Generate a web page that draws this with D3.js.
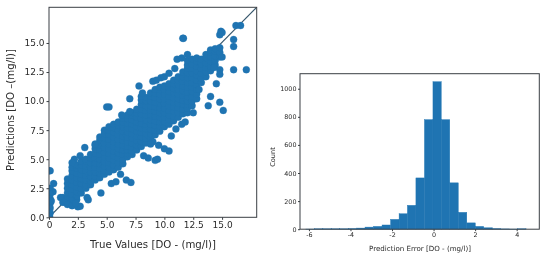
<!DOCTYPE html>
<html>
<head>
<meta charset="utf-8">
<script src="https://cdn.jsdelivr.net/npm/d3@7"></script>
<style>
    html, body { margin: 0; padding: 0; background: #fff; }
    svg { display: block; filter: blur(0.45px); font-family: "DejaVu Sans", sans-serif; }
</style>
</head>
<body>
<div id="graph_field"></div>
<script>
// Scatter: one true value, all predictions seen at it
const columnTrue = [1.2, 1.6, 2.0, 2.4, 2.8, 3.2, 3.6, 4.0, 4.4, 4.8, 5.2, 5.6, 6.0, 6.4, 6.8, 7.2, 7.6, 8.0, 8.4, 8.8, 9.2, 9.6, 10.0, 10.4, 10.8, 11.2, 11.6, 12.0, 12.4, 12.8, 13.2, 13.6, 14.0, 14.4, 14.8];
const columnPredicted = [
    [1.3, 1.7],
    [1.3, 1.7, 2.1, 2.5, 2.9, 3.3],
    [1.3, 1.6, 2.0, 2.4, 2.8, 3.2, 3.6, 4.0, 4.3],
    [1.5, 1.8, 2.2, 2.6, 3.0, 3.4, 3.8, 4.2, 4.5],
    [2.1, 2.5, 2.9, 3.3, 3.7, 4.1, 4.5, 4.8],
    [2.5, 2.8, 3.2, 3.6, 4.0, 4.4, 4.8, 5.0],
    [2.8, 3.1, 3.5, 3.9, 4.3, 4.7, 5.1, 5.4],
    [3.2, 3.5, 3.9, 4.3, 4.7, 5.1, 5.5, 5.9, 6.2],
    [3.4, 3.8, 4.2, 4.6, 5.0, 5.4, 5.8, 6.2, 6.6, 6.9],
    [3.7, 4.0, 4.4, 4.8, 5.2, 5.6, 6.0, 6.4, 6.8, 7.2, 7.5],
    [3.9, 4.3, 4.7, 5.1, 5.5, 5.9, 6.3, 6.7, 7.1, 7.5, 7.8],
    [4.1, 4.5, 4.9, 5.3, 5.7, 6.1, 6.5, 6.9, 7.3, 7.7, 8.0],
    [4.3, 4.7, 5.1, 5.5, 5.9, 6.3, 6.7, 7.1, 7.5, 7.9, 8.2],
    [4.6, 5.0, 5.4, 5.8, 6.2, 6.6, 7.0, 7.4, 7.8, 8.2, 8.5],
    [5.2, 5.5, 5.8, 6.1, 6.5, 6.9, 7.3, 7.7, 8.1, 8.5, 8.8],
    [5.4, 5.7, 6.0, 6.4, 6.8, 7.2, 7.6, 8.0, 8.4, 8.8, 9.0],
    [5.8, 6.2, 6.6, 7.0, 7.4, 7.8, 8.2, 8.6, 9.0, 9.3],
    [6.1, 6.5, 6.9, 7.3, 7.7, 8.1, 8.5, 8.9, 9.3, 9.7, 10.1, 10.4],
    [6.4, 6.8, 7.2, 7.6, 8.0, 8.4, 8.8, 9.2, 9.6, 10.0, 10.3],
    [6.8, 7.2, 7.6, 8.0, 8.4, 8.8, 9.2, 9.6, 10.0, 10.4, 10.7],
    [7.1, 7.5, 7.9, 8.3, 8.7, 9.1, 9.5, 9.9, 10.3, 10.7, 11.0],
    [7.4, 7.8, 8.2, 8.6, 9.0, 9.4, 9.8, 10.2, 10.6, 11.0, 11.2],
    [7.8, 8.2, 8.6, 9.0, 9.4, 9.8, 10.2, 10.6, 11.0, 11.3],
    [8.0, 8.4, 8.8, 9.2, 9.6, 10.0, 10.4, 10.8, 11.2, 11.5],
    [8.3, 8.7, 9.1, 9.5, 9.9, 10.3, 10.7, 11.1, 11.5, 11.8],
    [8.6, 9.0, 9.4, 9.8, 10.2, 10.6, 11.0, 11.4, 11.8, 12.1],
    [8.9, 9.3, 9.7, 10.1, 10.5, 10.9, 11.3, 11.7, 12.1, 12.5],
    [9.0, 9.4, 9.7, 10.0, 10.4, 10.8, 11.2, 11.6, 12.0, 12.4, 12.8, 13.1, 13.5],
    [9.6, 10.0, 10.4, 10.8, 11.2, 11.6, 12.0, 12.4, 12.8, 13.2, 13.6],
    [10.2, 10.6, 11.0, 11.4, 11.8, 12.2, 12.6, 13.0, 13.4, 13.7],
    [11.6, 12.0, 12.4, 12.8, 13.2, 13.6],
    [12.1, 12.5, 12.9, 13.3, 13.7, 14.0],
    [12.6, 13.0, 13.4, 13.8, 14.2, 14.4],
    [13.1, 13.5, 13.9, 14.3, 14.5],
    [13.8, 14.2, 14.6]
];
// Points standing apart from the main band
const outlierTrue = [0, 0.1, 0.4, 0.35, 0.1, 0.1, 0.1, 0.1, 0.1, 0.1, 0.05, 0.2, 1.0, 1.3, 1.6, 2.0, 2.5, 2.7, 2.3, 3.4, 3.3, 4.5, 5.4, 5.8, 6.7, 7.1, 6.2, 3.1, 2.7, 2.2, 2.0, 4.0, 5.0, 5.2, 6.3, 7.0, 7.0, 7.8, 8.1, 9.0, 9.3, 9.7, 10.0, 10.4, 10.9, 11.1, 11.5, 12.0, 11.6, 11.65, 14.8, 14.9, 15.0, 16.2, 16.6, 16.0, 16.0, 16.0, 17.1, 15.0, 14.8, 14.8, 14.3, 14.0, 13.8, 14.8, 15.1, 14.5, 8.2, 8.6, 9.2, 9.4, 10.0, 10.4, 9.5, 9.0, 8.8, 11.0, 11.5, 11.8, 10.6, 12.5, 13.0];
const outlierPredicted = [4.0, 4.0, 2.9, 2.2, 2.5, 2.0, 1.6, 1.2, 0.8, 0.4, 0.1, 1.4, 1.7, 1.3, 1.1, 1.0, 0.9, 0.95, 1.2, 1.5, 1.7, 2.1, 2.9, 3.05, 3.2, 3.0, 3.7, 6.0, 5.3, 5.0, 4.7, 6.3, 9.5, 9.5, 8.8, 9.1, 10.2, 11.3, 10.7, 11.7, 11.8, 12.0, 12.1, 12.4, 12.8, 13.6, 13.7, 14.0, 15.4, 15.4, 15.7, 16.0, 15.9, 16.5, 16.5, 15.3, 14.7, 12.7, 12.7, 13.8, 12.7, 12.3, 12.9, 10.4, 9.6, 9.9, 9.2, 11.5, 5.3, 5.1, 4.9, 5.0, 5.9, 5.7, 6.2, 6.5, 6.3, 7.6, 8.0, 8.2, 7.0, 9.0, 11.0];

const scatterTickValues = [0, 2.5, 5, 7.5, 10, 12.5, 15];
const scatterXTickLabels = ["0", "2.5", "5.0", "7.5", "10.0", "12.5", "15.0"];
const scatterYTickLabels = ["0.0", "2.5", "5.0", "7.5", "10.0", "12.5", "15.0"];

// Histogram: 27 bin edges, 26 counts
const binEdges = [-6.15, -5.74, -5.33, -4.93, -4.52, -4.11, -3.70, -3.30, -2.89, -2.48, -2.07, -1.66, -1.26, -0.85, -0.44, -0.03, 0.37, 0.78, 1.19, 1.60, 2.01, 2.41, 2.82, 3.23, 3.64, 4.05, 4.45];
const binCounts = [1, 3, 3, 3, 3, 5, 8, 15, 20, 30, 70, 110, 170, 365, 780, 1050, 780, 330, 120, 45, 20, 10, 5, 2, 1, 3];
const histXTicks = [-6, -4, -2, 0, 2, 4];
const histXTickLabels = ["-6", "-4", "-2", "0", "2", "4"];
const histYTicks = [0, 200, 400, 600, 800, 1000];
const histYTickLabels = ["0", "200", "400", "600", "800", "1000"];

const BLUE = "#1f74b2";
const FRAME = "#3a3f44";

let svg = d3.select("#graph_field")
    .append("svg")
    .attr("width", 550)
    .attr("height", 261);

function styleAxis(g, size) {
    g.selectAll("path").remove();
    g.selectAll("line").attr("stroke", FRAME);
    g.selectAll("text")
        .attr("fill", "#2b2b2b")
        .style("font-size", size + "px")
        .style("font-family", "'DejaVu Sans', sans-serif");
}

function renderScatter() {
    let left = 49, right = 256.7, top = 7.3, bottom = 217.3;

    let x = d3.scaleLinear().domain([0, 18]).range([left, right]);
    let y = d3.scaleLinear().domain([0, 18.07]).range([bottom, top]);

    // clip so dots on the x=0 edge get cut by the frame
    svg.append("clipPath").attr("id", "scatter_clip")
        .append("rect")
        .attr("x", left).attr("y", top)
        .attr("width", right - left).attr("height", bottom - top);

    let points = [];
    columnTrue.forEach((t, i) => {
        columnPredicted[i].forEach((p) => points.push([t, p]));
    });
    outlierTrue.forEach((t, i) => points.push([t, outlierPredicted[i]]));

    let plot = svg.append("g").attr("clip-path", "url(#scatter_clip)");

    plot.append("line")
        .attr("x1", x(0)).attr("y1", y(0))
        .attr("x2", x(18)).attr("y2", y(18.07))
        .attr("stroke", "#35556b")
        .attr("stroke-width", 1.2);

    plot.selectAll("circle")
        .data(points)
        .enter()
        .append("circle")
        .attr("cx", d => x(d[0]))
        .attr("cy", d => y(d[1]))
        .attr("r", 3.5)
        .attr("fill", BLUE)
        .attr("stroke", BLUE)
        .attr("stroke-width", 0.3);

    svg.append("rect")
        .attr("x", left).attr("y", top)
        .attr("width", right - left).attr("height", bottom - top)
        .attr("fill", "none")
        .attr("stroke", FRAME)
        .attr("stroke-width", 1);

    svg.append("g")
        .attr("transform", "translate(0," + bottom + ")")
        .call(d3.axisBottom(x).tickValues(scatterTickValues).tickSize(2.5).tickPadding(2)
            .tickFormat((d, i) => scatterXTickLabels[i]))
        .call(g => styleAxis(g, 9));

    svg.append("g")
        .attr("transform", "translate(" + left + ",0)")
        .call(d3.axisLeft(y).tickValues(scatterTickValues).tickSize(2.5).tickPadding(2)
            .tickFormat((d, i) => scatterYTickLabels[i]))
        .call(g => styleAxis(g, 9));

    svg.append("text")
        .attr("x", 153)
        .attr("y", 248)
        .attr("text-anchor", "middle")
        .attr("fill", "#2b2b2b")
        .style("font-size", "10.2px")
        .text("True Values [DO - (mg/l)]");

    svg.append("text")
        .attr("transform", "translate(14,110) rotate(-90)")
        .attr("text-anchor", "middle")
        .attr("fill", "#2b2b2b")
        .style("font-size", "10.2px")
        .text("Predictions [DO –(mg/l)]");
}

function renderHistogram() {
    let left = 300, right = 539.3, top = 73.7, bottom = 229.2;

    let x = d3.scaleLinear().domain([-6.43, 5.09]).range([left, right]);
    let y = d3.scaleLinear().domain([0, 1107]).range([bottom, top]);

    svg.append("g")
        .selectAll("rect")
        .data(binCounts)
        .enter()
        .append("rect")
        .attr("x", (d, i) => x(binEdges[i]))
        .attr("y", d => y(d))
        .attr("width", (d, i) => x(binEdges[i + 1]) - x(binEdges[i]))
        .attr("height", d => y(0) - y(d))
        .attr("fill", BLUE)
        .attr("stroke", BLUE)
        .attr("stroke-width", 0.4);

    svg.append("rect")
        .attr("x", left).attr("y", top)
        .attr("width", right - left).attr("height", bottom - top)
        .attr("fill", "none")
        .attr("stroke", FRAME)
        .attr("stroke-width", 1);

    svg.append("g")
        .attr("transform", "translate(0," + bottom + ")")
        .call(d3.axisBottom(x).tickValues(histXTicks).tickSize(2).tickPadding(1.5)
            .tickFormat((d, i) => histXTickLabels[i]))
        .call(g => styleAxis(g, 6.4));

    svg.append("g")
        .attr("transform", "translate(" + left + ",0)")
        .call(d3.axisLeft(y).tickValues(histYTicks).tickSize(2).tickPadding(1.5)
            .tickFormat((d, i) => histYTickLabels[i]))
        .call(g => styleAxis(g, 6.4));

    svg.append("text")
        .attr("x", 420)
        .attr("y", 250.5)
        .attr("text-anchor", "middle")
        .attr("fill", "#2b2b2b")
        .style("font-size", "7.1px")
        .text("Prediction Error [DO - (mg/l)]");

    svg.append("text")
        .attr("transform", "translate(275,157) rotate(-90)")
        .attr("text-anchor", "middle")
        .attr("fill", "#2b2b2b")
        .style("font-size", "6.6px")
        .text("Count");
}

renderScatter();
renderHistogram();
</script>
</body>
</html>
